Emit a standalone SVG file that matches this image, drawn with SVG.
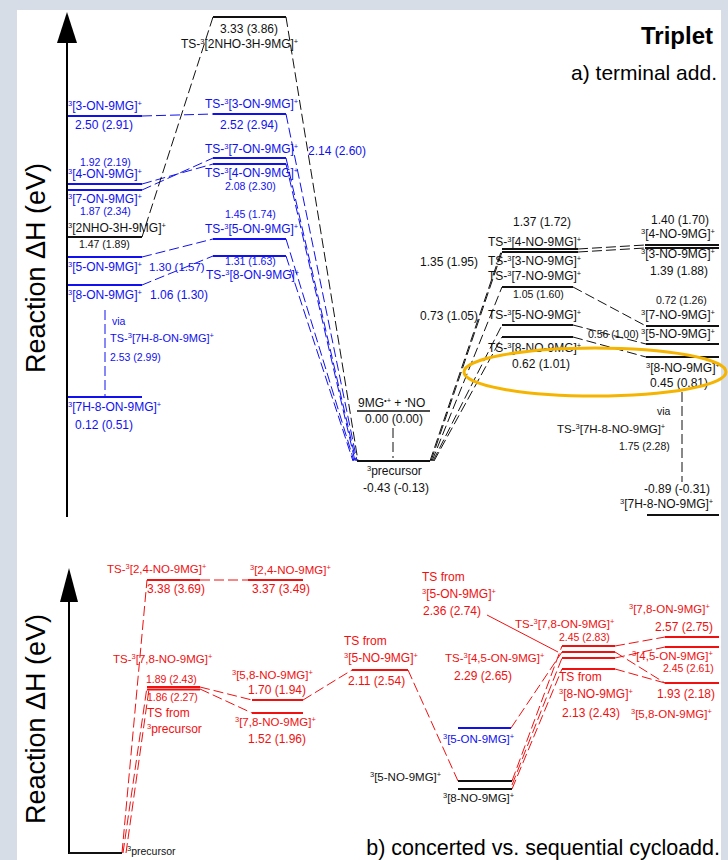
<svg xmlns="http://www.w3.org/2000/svg" width="728" height="860" viewBox="0 0 728 860">
<style>
text{font-family:"Liberation Sans",Arial,sans-serif;font-size:12px}
.s{font-size:10.5px}
.m{font-size:11.5px}
.B{fill:#1010f0}
.R{fill:#f01010}
.K{fill:#111}
.p{font-size:7.5px}
.lk,.lb,.lr{stroke-width:2;fill:none}
.lk{stroke:#111}.lb{stroke:#1010f0}.lr{stroke:#f01010}
.ck,.cb,.cr{stroke-width:1;fill:none;stroke-dasharray:10 4}
.ck{stroke:#111}.cb{stroke:#1010f0}.cr{stroke:#f01010}
.big{font-size:27px}
</style>
<rect x="0" y="0" width="728" height="860" fill="#d6dde7"/>
<rect x="17" y="10" width="704" height="850" fill="#fff"/>

<!-- axes -->
<g id="axis-a">
<line x1="67" y1="40" x2="67" y2="517" stroke="#000" stroke-width="2"/>
<polygon points="67,12 57,43 77,43" fill="#000"/>
<text class="big" transform="translate(45,268) rotate(-90)" text-anchor="middle">Reaction ΔH (eV)</text>
</g>
<g id="axis-b">
<line x1="69" y1="598" x2="69" y2="854" stroke="#000" stroke-width="2"/>
<polygon points="69,568 60,602 78,602" fill="#000"/>
<text class="big" transform="translate(45,719) rotate(-90)" text-anchor="middle">Reaction ΔH (eV)</text>
</g>
<g id="titles">
<text x="713" y="44" text-anchor="end" style="font-size:24px;font-weight:bold">Triplet</text>
<text x="717" y="80" text-anchor="end" style="font-size:21px">a) terminal add.</text>
<text x="720" y="855" text-anchor="end" style="font-size:21.5px">b) concerted vs. sequential cycloadd.</text>
</g>

<!-- connectors -->
<g id="connectors">
<!-- panel a blue -->
<line class="cb" x1="142" y1="116" x2="213" y2="114"/>
<line class="cb" x1="142" y1="184" x2="213" y2="164"/>
<line class="cb" x1="142" y1="190" x2="213" y2="158"/>
<line class="cb" x1="142" y1="257" x2="213" y2="239"/>
<line class="cb" x1="142" y1="285" x2="213" y2="256"/>
<line class="cb" x1="105" y1="310" x2="105" y2="396"/>
<line class="cb" x1="286" y1="114" x2="357" y2="461"/>
<line class="cb" x1="286" y1="158" x2="356" y2="461"/>
<line class="cb" x1="286" y1="164" x2="355" y2="461"/>
<line class="cb" x1="286" y1="239" x2="354" y2="461"/>
<line class="cb" x1="286" y1="256" x2="353" y2="461"/>
<!-- panel a black -->
<line class="ck" x1="213" y1="17" x2="142" y2="237"/>
<line class="ck" x1="286" y1="17" x2="358" y2="461"/>
<line class="ck" x1="393" y1="428" x2="393" y2="458"/>
<line class="ck" x1="430" y1="461" x2="502" y2="249"/>
<line class="ck" x1="431" y1="461" x2="502" y2="252"/>
<line class="ck" x1="432" y1="461" x2="502" y2="287"/>
<line class="ck" x1="433" y1="461" x2="502" y2="325"/>
<line class="ck" x1="434" y1="461" x2="502" y2="337"/>
<line class="ck" x1="578" y1="249" x2="645" y2="245"/>
<line class="ck" x1="578" y1="252" x2="645" y2="248"/>
<line class="ck" x1="573" y1="287" x2="646" y2="326"/>
<line class="ck" x1="573" y1="325" x2="646" y2="344"/>
<line class="ck" x1="573" y1="337" x2="646" y2="357"/>
<line class="ck" x1="682" y1="392" x2="682" y2="482"/>
<!-- panel b red -->
<line class="cr" x1="122" y1="853" x2="147" y2="580"/>
<line class="cr" x1="123" y1="853" x2="147" y2="687"/>
<line class="cr" x1="126" y1="853" x2="149" y2="689"/>
<line class="cr" x1="200" y1="580" x2="248" y2="580"/>
<line class="cr" x1="200" y1="687" x2="252" y2="700"/>
<line class="cr" x1="200" y1="689" x2="252" y2="713"/>
<line class="cr" x1="303" y1="700" x2="352" y2="670"/>
<line class="cr" x1="408" y1="670" x2="458" y2="781"/>
<line class="cr" x1="511" y1="728" x2="562" y2="652"/>
<line class="cr" x1="512" y1="781" x2="562" y2="646"/>
<line class="cr" x1="512" y1="785" x2="562" y2="658"/>
<line class="cr" x1="512" y1="789" x2="562" y2="669"/>
<line x1="487" y1="615" x2="558" y2="652" stroke="#f01010" stroke-width="1"/>
<line class="cr" x1="615" y1="646" x2="665" y2="637"/>
<line class="cr" x1="615" y1="658" x2="665" y2="647"/>
<line class="cr" x1="615" y1="652" x2="665" y2="683"/>
<line class="cr" x1="615" y1="669" x2="665" y2="683"/>
</g>

<!-- panel a: blue left -->
<g id="n-3-ON">
<line class="lb" x1="68" y1="116" x2="142" y2="116"/>
<text class="B" x="68" y="110"><tspan class="p" baseline-shift="super">3</tspan>[3-ON-9MG]<tspan class="p" baseline-shift="super">+</tspan></text>
<text class="B" x="75" y="129">2.50 (2.91)</text>
</g>
<g id="n-4-ON">
<line class="lb" x1="68" y1="184" x2="142" y2="184"/>
<text class="B s" x="80" y="166">1.92 (2.19)</text>
<text class="B" x="68" y="178"><tspan class="p" baseline-shift="super">3</tspan>[4-ON-9MG]<tspan class="p" baseline-shift="super">+</tspan></text>
</g>
<g id="n-7-ON">
<line class="lb" x1="68" y1="190" x2="142" y2="190"/>
<text class="B" x="68" y="203"><tspan class="p" baseline-shift="super">3</tspan>[7-ON-9MG]<tspan class="p" baseline-shift="super">+</tspan></text>
<text class="B s" x="80" y="215">1.87 (2.34)</text>
</g>
<g id="n-2NHO">
<line class="lk" x1="68" y1="237" x2="142" y2="237"/>
<text class="K" x="68" y="232"><tspan class="p" baseline-shift="super">3</tspan>[2NHO-3H-9MG]<tspan class="p" baseline-shift="super">+</tspan></text>
<text class="K s" x="79" y="248">1.47 (1.89)</text>
</g>
<g id="n-5-ON">
<line class="lb" x1="68" y1="257" x2="142" y2="257"/>
<text class="B" x="68" y="271"><tspan class="p" baseline-shift="super">3</tspan>[5-ON-9MG]<tspan class="p" baseline-shift="super">+</tspan></text>
<text class="B m" x="149" y="271">1.30 (1.57)</text>
</g>
<g id="n-8-ON">
<line class="lb" x1="68" y1="285" x2="142" y2="285"/>
<text class="B" x="68" y="299"><tspan class="p" baseline-shift="super">3</tspan>[8-ON-9MG]<tspan class="p" baseline-shift="super">+</tspan></text>
<text class="B" x="150" y="299">1.06 (1.30)</text>
</g>
<g id="via-a">
<text class="B s" x="112" y="325">via</text>
<text class="B" style="font-size:11px" x="110" y="342">TS-<tspan class="p" baseline-shift="super">3</tspan>[7H-8-ON-9MG]<tspan class="p" baseline-shift="super">+</tspan></text>
<text class="B s" x="110" y="361">2.53 (2.99)</text>
</g>
<g id="n-7H-8-ON">
<line class="lb" x1="68" y1="397" x2="142" y2="397"/>
<text class="B" x="68" y="411"><tspan class="p" baseline-shift="super">3</tspan>[7H-8-ON-9MG]<tspan class="p" baseline-shift="super">+</tspan></text>
<text class="B" x="75" y="429">0.12 (0.51)</text>
</g>

<!-- panel a: TS column left -->
<g id="ts-2NHO">
<line class="lk" x1="213" y1="17" x2="286" y2="17"/>
<text class="K" x="220" y="33">3.33 (3.86)</text>
<text class="K" x="181" y="48">TS-<tspan class="p" baseline-shift="super">3</tspan>[2NHO-3H-9MG]<tspan class="p" baseline-shift="super">+</tspan></text>
</g>
<g id="ts-3-ON">
<line class="lb" x1="213" y1="114" x2="286" y2="114"/>
<text class="B" x="205" y="108">TS-<tspan class="p" baseline-shift="super">3</tspan>[3-ON-9MG]<tspan class="p" baseline-shift="super">+</tspan></text>
<text class="B" x="220" y="129">2.52 (2.94)</text>
</g>
<g id="ts-7-ON">
<line class="lb" x1="213" y1="158" x2="286" y2="158"/>
<text class="B" x="205" y="153">TS-<tspan class="p" baseline-shift="super">3</tspan>[7-ON-9MG]<tspan class="p" baseline-shift="super">+</tspan></text>
<text class="B" x="308" y="155">2.14 (2.60)</text>
</g>
<g id="ts-4-ON">
<line class="lb" x1="213" y1="164" x2="286" y2="164"/>
<text class="B" x="205" y="177">TS-<tspan class="p" baseline-shift="super">3</tspan>[4-ON-9MG]<tspan class="p" baseline-shift="super">+</tspan></text>
<text class="B s" x="225" y="190">2.08 (2.30)</text>
</g>
<g id="ts-5-ON">
<line class="lb" x1="213" y1="239" x2="286" y2="239"/>
<text class="B s" x="225" y="218">1.45 (1.74)</text>
<text class="B" x="205" y="233">TS-<tspan class="p" baseline-shift="super">3</tspan>[5-ON-9MG]<tspan class="p" baseline-shift="super">+</tspan></text>
</g>
<g id="ts-8-ON">
<line class="lb" x1="213" y1="256" x2="286" y2="256"/>
<text class="B s" x="225" y="265">1.31 (1.63)</text>
<text class="B" x="206" y="279">TS-<tspan class="p" baseline-shift="super">3</tspan>[8-ON-9MG]<tspan class="p" baseline-shift="super">+</tspan></text>
</g>

<!-- precursor panel a -->
<g id="reactants">
<text class="K" x="358" y="407">9MG<tspan class="p" baseline-shift="super">•+</tspan> + <tspan class="p" baseline-shift="super">•</tspan>NO</text>
<line x1="357" y1="411" x2="430" y2="411" stroke="#111" stroke-width="1.3"/>
<text class="K" x="365" y="423">0.00 (0.00)</text>
</g>
<g id="precursor-a">
<line class="lk" x1="357" y1="461" x2="430" y2="461"/>
<text class="K" x="367" y="475"><tspan class="p" baseline-shift="super">3</tspan>precursor</text>
<text class="K" x="363" y="492">-0.43 (-0.13)</text>
</g>

<!-- panel a: right TS -->
<g id="ts-4-NO">
<line class="lk" x1="502" y1="249" x2="578" y2="249"/>
<text class="K" x="513" y="226">1.37 (1.72)</text>
<text class="K" x="488" y="246">TS-<tspan class="p" baseline-shift="super">3</tspan>[4-NO-9MG]<tspan class="p" baseline-shift="super">+</tspan></text>
</g>
<g id="ts-3-NO">
<line class="lk" x1="502" y1="252" x2="578" y2="252"/>
<text class="K" x="488" y="265">TS-<tspan class="p" baseline-shift="super">3</tspan>[3-NO-9MG]<tspan class="p" baseline-shift="super">+</tspan></text>
<text class="K" x="420" y="266">1.35 (1.95)</text>
</g>
<g id="ts-7-NO">
<line class="lk" x1="502" y1="287" x2="573" y2="287"/>
<text class="K" x="488" y="280">TS-<tspan class="p" baseline-shift="super">3</tspan>[7-NO-9MG]<tspan class="p" baseline-shift="super">+</tspan></text>
<text class="K s" x="513" y="298">1.05 (1.60)</text>
</g>
<g id="ts-5-NO">
<line class="lk" x1="502" y1="325" x2="573" y2="325"/>
<text class="K" x="488" y="319">TS-<tspan class="p" baseline-shift="super">3</tspan>[5-NO-9MG]<tspan class="p" baseline-shift="super">+</tspan></text>
<text class="K" x="420" y="320">0.73 (1.05)</text>
</g>
<g id="ts-8-NO">
<line class="lk" x1="502" y1="337" x2="573" y2="337"/>
<text class="K" x="488" y="352">TS-<tspan class="p" baseline-shift="super">3</tspan>[8-NO-9MG]<tspan class="p" baseline-shift="super">+</tspan></text>
<text class="K" x="512" y="368">0.62 (1.01)</text>
</g>

<!-- panel a: right products -->
<g id="n-4-NO">
<line class="lk" x1="645" y1="245" x2="719" y2="245"/>
<text class="K" x="651" y="224">1.40 (1.70)</text>
<text class="K" x="641" y="238"><tspan class="p" baseline-shift="super">3</tspan>[4-NO-9MG]<tspan class="p" baseline-shift="super">+</tspan></text>
</g>
<g id="n-3-NO">
<line class="lk" x1="645" y1="248" x2="719" y2="248"/>
<text class="K" x="641" y="258"><tspan class="p" baseline-shift="super">3</tspan>[3-NO-9MG]<tspan class="p" baseline-shift="super">+</tspan></text>
<text class="K" x="650" y="275">1.39 (1.88)</text>
</g>
<g id="n-7-NO">
<line class="lk" x1="646" y1="326" x2="719" y2="326"/>
<text class="K s" x="656" y="304">0.72 (1.26)</text>
<text class="K" x="641" y="319"><tspan class="p" baseline-shift="super">3</tspan>[7-NO-9MG]<tspan class="p" baseline-shift="super">+</tspan></text>
</g>
<g id="n-5-NO">
<line class="lk" x1="646" y1="344" x2="719" y2="344"/>
<text class="K s" x="588" y="338">0.56 (1.00)</text>
<text class="K" x="641" y="338"><tspan class="p" baseline-shift="super">3</tspan>[5-NO-9MG]<tspan class="p" baseline-shift="super">+</tspan></text>
</g>
<g id="n-8-NO">
<line class="lk" x1="646" y1="357" x2="719" y2="357"/>
<text class="K" x="646" y="372"><tspan class="p" baseline-shift="super">3</tspan>[8-NO-9MG]<tspan class="p" baseline-shift="super">+</tspan></text>
<text class="K" x="650" y="387">0.45 (0.81)</text>
</g>
<g id="via-b">
<text class="K s" x="657" y="415">via</text>
<text class="K m" x="557" y="433">TS-<tspan class="p" baseline-shift="super">3</tspan>[7H-8-NO-9MG]<tspan class="p" baseline-shift="super">+</tspan></text>
<text class="K s" x="619" y="450">1.75 (2.28)</text>
</g>
<g id="n-7H-8-NO">
<line class="lk" x1="647" y1="515" x2="719" y2="515"/>
<text class="K" x="644" y="493">-0.89 (-0.31)</text>
<text class="K" x="620" y="508"><tspan class="p" baseline-shift="super">3</tspan>[7H-8-NO-9MG]<tspan class="p" baseline-shift="super">+</tspan></text>
</g>
<ellipse id="highlight" cx="595" cy="372" rx="131" ry="24" fill="none" stroke="#f5b400" stroke-width="3"/>

<!-- panel b -->
<g id="precursor-b">
<line class="lk" x1="69" y1="853" x2="122" y2="853"/>
<text class="K s" x="127" y="855"><tspan class="p" baseline-shift="super">3</tspan>precursor</text>
</g>
<g id="ts-24-NO">
<line class="lr" x1="147" y1="580" x2="200" y2="580"/>
<text class="R m" x="107" y="573">TS-<tspan class="p" baseline-shift="super">3</tspan>[2,4-NO-9MG]<tspan class="p" baseline-shift="super">+</tspan></text>
<text class="R" x="147" y="593">3.38 (3.69)</text>
</g>
<g id="n-24-NO">
<line class="lr" x1="248" y1="580" x2="303" y2="580"/>
<text class="R m" x="250" y="574"><tspan class="p" baseline-shift="super">3</tspan>[2,4-NO-9MG]<tspan class="p" baseline-shift="super">+</tspan></text>
<text class="R" x="252" y="593">3.37 (3.49)</text>
</g>
<g id="ts-78-NO">
<line class="lr" x1="147" y1="687" x2="200" y2="687"/>
<line class="lr" x1="147" y1="689.5" x2="200" y2="689.5"/>
<text class="R m" x="113" y="663">TS-<tspan class="p" baseline-shift="super">3</tspan>[7,8-NO-9MG]<tspan class="p" baseline-shift="super">+</tspan></text>
<text class="R s" x="146" y="683">1.89 (2.43)</text>
<text class="R s" x="147" y="701">1.86 (2.27)</text>
<text class="R" x="147" y="717">TS from</text>
<text class="R" x="147" y="733"><tspan class="p" baseline-shift="super">3</tspan>precursor</text>
</g>
<g id="n-58-NO">
<line class="lr" x1="252" y1="700" x2="303" y2="700"/>
<text class="R m" x="232" y="679"><tspan class="p" baseline-shift="super">3</tspan>[5,8-NO-9MG]<tspan class="p" baseline-shift="super">+</tspan></text>
<text class="R" x="248" y="694">1.70 (1.94)</text>
</g>
<g id="n-78-NO">
<line class="lr" x1="252" y1="713" x2="303" y2="713"/>
<text class="R m" x="235" y="726"><tspan class="p" baseline-shift="super">3</tspan>[7,8-NO-9MG]<tspan class="p" baseline-shift="super">+</tspan></text>
<text class="R" x="248" y="743">1.52 (1.96)</text>
</g>
<g id="ts-from-5-NO">
<line class="lr" x1="352" y1="670" x2="408" y2="670"/>
<text class="R" x="344" y="645">TS from</text>
<text class="R" x="344" y="662"><tspan class="p" baseline-shift="super">3</tspan>[5-NO-9MG]<tspan class="p" baseline-shift="super">+</tspan></text>
<text class="R" x="348" y="685">2.11 (2.54)</text>
</g>
<g id="b-5-NO">
<line class="lk" x1="458" y1="781" x2="512" y2="781"/>
<text class="K m" x="370" y="781"><tspan class="p" baseline-shift="super">3</tspan>[5-NO-9MG]<tspan class="p" baseline-shift="super">+</tspan></text>
</g>
<g id="b-8-NO">
<line class="lk" x1="458" y1="789" x2="512" y2="789"/>
<text class="K m" x="443" y="802"><tspan class="p" baseline-shift="super">3</tspan>[8-NO-9MG]<tspan class="p" baseline-shift="super">+</tspan></text>
</g>
<g id="b-5-ON">
<line class="lb" x1="458" y1="728" x2="511" y2="728"/>
<text class="B m" x="443" y="743"><tspan class="p" baseline-shift="super">3</tspan>[5-ON-9MG]<tspan class="p" baseline-shift="super">+</tspan></text>
</g>
<g id="ts-from-5-ON">
<line class="lr" x1="562" y1="652" x2="615" y2="652"/>
<text class="R" x="422" y="581">TS from</text>
<text class="R" x="422" y="598"><tspan class="p" baseline-shift="super">3</tspan>[5-ON-9MG]<tspan class="p" baseline-shift="super">+</tspan></text>
<text class="R" x="423" y="615">2.36 (2.74)</text>
</g>
<g id="ts-78-ON">
<line class="lr" x1="562" y1="646" x2="615" y2="646"/>
<text class="R m" x="515" y="628">TS-<tspan class="p" baseline-shift="super">3</tspan>[7,8-ON-9MG]<tspan class="p" baseline-shift="super">+</tspan></text>
<text class="R s" x="559" y="641">2.45 (2.83)</text>
</g>
<g id="ts-45-ON">
<line class="lr" x1="562" y1="658" x2="615" y2="658"/>
<text class="R m" x="445" y="662">TS-<tspan class="p" baseline-shift="super">3</tspan>[4,5-ON-9MG]<tspan class="p" baseline-shift="super">+</tspan></text>
<text class="R" x="454" y="680">2.29 (2.65)</text>
</g>
<g id="ts-from-8-NO">
<line class="lr" x1="562" y1="669" x2="615" y2="669"/>
<text class="R" x="559" y="681">TS from</text>
<text class="R" x="559" y="698"><tspan class="p" baseline-shift="super">3</tspan>[8-NO-9MG]<tspan class="p" baseline-shift="super">+</tspan></text>
<text class="R" x="562" y="717">2.13 (2.43)</text>
</g>
<g id="n-78-ON">
<line class="lr" x1="665" y1="637" x2="719" y2="637"/>
<text class="R m" x="629" y="613"><tspan class="p" baseline-shift="super">3</tspan>[7,8-ON-9MG]<tspan class="p" baseline-shift="super">+</tspan></text>
<text class="R" x="655" y="631">2.57 (2.75)</text>
</g>
<g id="n-45-ON">
<line class="lr" x1="665" y1="647" x2="719" y2="647"/>
<text class="R m" x="632" y="660"><tspan class="p" baseline-shift="super">3</tspan>[4,5-ON-9MG]<tspan class="p" baseline-shift="super">+</tspan></text>
<text class="R s" x="663" y="672">2.45 (2.61)</text>
</g>
<g id="n-58-ON">
<line class="lr" x1="665" y1="683" x2="719" y2="683"/>
<text class="R" x="657" y="698">1.93 (2.18)</text>
<text class="R m" x="631" y="718"><tspan class="p" baseline-shift="super">3</tspan>[5,8-ON-9MG]<tspan class="p" baseline-shift="super">+</tspan></text>
</g>
</svg>
